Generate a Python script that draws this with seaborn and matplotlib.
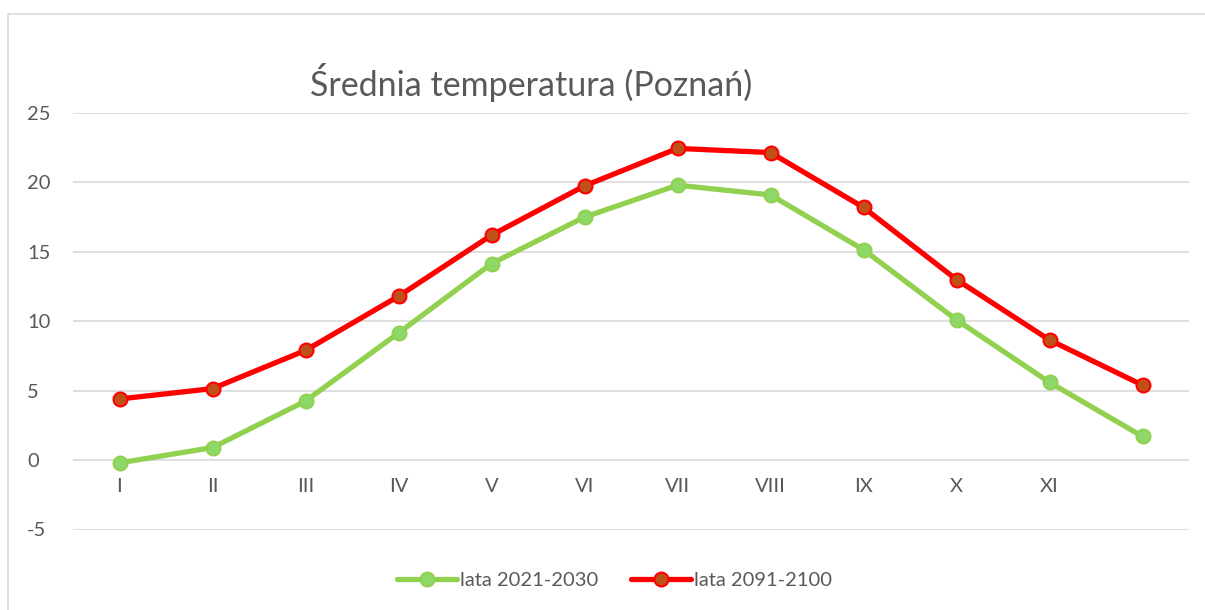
import seaborn as sns
import matplotlib.pyplot as plt
import pandas as pd
from matplotlib.lines import Line2D
from matplotlib.patches import Rectangle

# Data
months = ["I", "II", "III", "IV", "V", "VI", "VII", "VIII", "IX", "X", "XI", "XII"]
tick_labels = ["I", "II", "III", "IV", "V", "VI", "VII", "VIII", "IX", "X", "XI", ""]
temp_2021_2030 = [-0.2, 0.9, 4.25, 9.15, 14.15, 17.5, 19.8, 19.1, 15.15, 10.1, 5.6, 1.7]
temp_2091_2100 = [4.4, 5.15, 7.9, 11.8, 16.2, 19.75, 22.45, 22.15, 18.2, 13.0, 8.65, 5.4]
series_names = ["lata 2021-2030", "lata 2091-2100"]

line_colors = ["#92D050", "#FF0000"]
face_colors = ["#8ED86A", "#C0501A"]

df = pd.DataFrame({
    "x": list(range(len(months))) * 2,
    "temp": temp_2021_2030 + temp_2091_2100,
    "series": [series_names[0]] * len(months) + [series_names[1]] * len(months),
})

sns.set_theme(style="white")
plt.rcParams["font.family"] = ["Lato", "DejaVu Sans"]
plt.rcParams["axes.unicode_minus"] = False

fig = plt.figure(figsize=(12.05, 6.1), dpi=100)
# chart border like the spreadsheet frame
fig.patches.append(Rectangle((8 / 1205, -0.1), 1.2, 1 - 14 / 610 + 0.1,
                             transform=fig.transFigure, fill=False,
                             edgecolor="#D9D9D9", linewidth=1.2))

ax = fig.add_axes([73 / 1205, 1 - 529.5 / 610, (1189 - 73) / 1205, (529.5 - 113) / 610])

for name, lc, fc in zip(series_names, line_colors, face_colors):
    sub = df[df["series"] == name]
    sns.lineplot(data=sub, x="x", y="temp", ax=ax, color=lc, linewidth=3.8,
                 marker="o", markersize=10, markerfacecolor=fc,
                 markeredgecolor=lc, markeredgewidth=1.5, legend=False, zorder=3)

ax.set_xlim(-0.5, 11.5)
ax.set_ylim(-5, 25)
ax.set_yticks(range(-5, 30, 5))
ax.grid(axis="y", color="#D9D9D9", linewidth=1.2)
ax.grid(axis="x", visible=False)
for s in ["top", "right", "left"]:
    ax.spines[s].set_visible(False)
ax.spines["bottom"].set_position(("data", 0))
ax.spines["bottom"].set_visible(False)

ax.set_xticks(range(len(months)))
ax.set_xticklabels(tick_labels)
ax.tick_params(axis="x", length=0, pad=13, labelsize=14.5, labelcolor="#595959")
ax.tick_params(axis="y", length=0, pad=33, labelsize=14.5, labelcolor="#595959")
for lbl in ax.get_yticklabels():
    lbl.set_horizontalalignment("left")
ax.set_xlabel("")
ax.set_ylabel("")

fig.text(531 / 1205, 1 - 82 / 610, "Średnia temperatura (Poznań)", ha="center",
         va="center", fontsize=24.5, color="#595959")

handles = [Line2D([0], [0], color=lc, linewidth=3.8, marker="o", markersize=10,
                  markerfacecolor=fc, markeredgecolor=lc, markeredgewidth=1.5)
           for lc, fc in zip(line_colors, face_colors)]
leg = fig.legend(handles, series_names, loc="center", bbox_to_anchor=(0.51, 1 - 580 / 610),
                 ncol=2, frameon=False, fontsize=14.5, handlelength=3.0,
                 handletextpad=0.15, columnspacing=1.6)
for t in leg.get_texts():
    t.set_color("#595959")

fig.savefig("out.png", dpi=100)
